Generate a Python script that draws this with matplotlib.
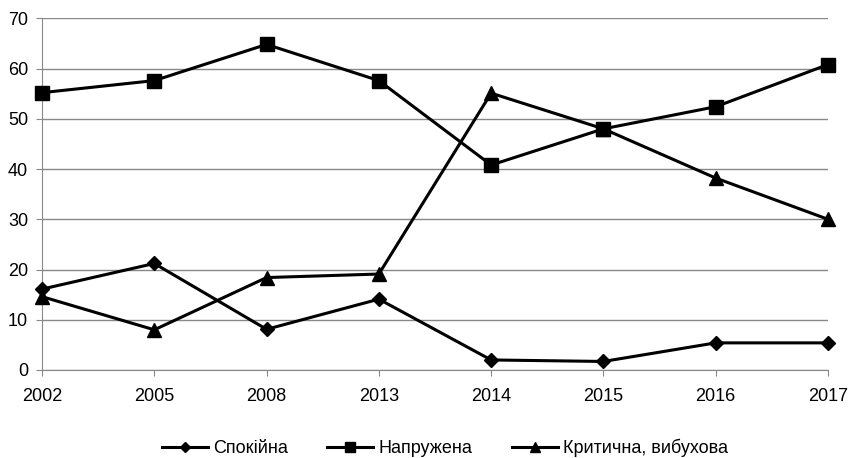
import matplotlib
matplotlib.use("Agg")
import matplotlib.pyplot as plt

years = ["2002", "2005", "2008", "2013", "2014", "2015", "2016", "2017"]
calm = [16.1, 21.2, 8.1, 14.1, 2.0, 1.7, 5.4, 5.4]
tense = [55.2, 57.6, 64.8, 57.6, 40.8, 48.0, 52.4, 60.8]
critical = [14.6, 8.0, 18.4, 19.1, 55.1, 48.0, 38.2, 30.0]
labels = ["Спокійна", "Напружена", "Критична, вибухова"]
yticks = [0, 10, 20, 30, 40, 50, 60, 70]

plt.rcParams['font.family'] = ['Liberation Sans', 'DejaVu Sans']

fig = plt.figure(figsize=(8.5, 4.58), dpi=100)
ax = fig.add_axes([42/850, 1-370/458, (828-42)/850, (370-18.3)/458])
x = list(range(len(years)))
ax.plot(x, calm, color='black', lw=2.2, marker='D', ms=7, label=labels[0], clip_on=False, zorder=3)
ax.plot(x, tense, color='black', lw=2.2, marker='s', ms=9.5, label=labels[1], clip_on=False, zorder=3)
ax.plot(x, critical, color='black', lw=2.2, marker='^', ms=9.5, label=labels[2], clip_on=False, zorder=3)

ax.set_xlim(0, len(years)-1)
ax.set_ylim(0, 70)
ax.set_yticks(yticks)
ax.set_xticks(x)
ax.set_xticklabels(years)
ax.yaxis.grid(True, color='#888888', lw=1)
ax.set_axisbelow(True)
for s in ['top', 'right']:
    ax.spines[s].set_visible(False)
for s in ['left', 'bottom']:
    ax.spines[s].set_color('#888888')
ax.tick_params(axis='both', colors='#888888', labelcolor='black', labelsize=13, length=4)
ax.tick_params(axis='x', pad=9)
ax.tick_params(axis='y', pad=6)

fig.legend(loc='center', bbox_to_anchor=(445/850, 1-448/458), ncol=3, frameon=False,
           fontsize=13, handlelength=2.55, columnspacing=2.2, handletextpad=0.28,
           markerscale=0.7, borderpad=0)
fig.savefig('out.png', dpi=100)
